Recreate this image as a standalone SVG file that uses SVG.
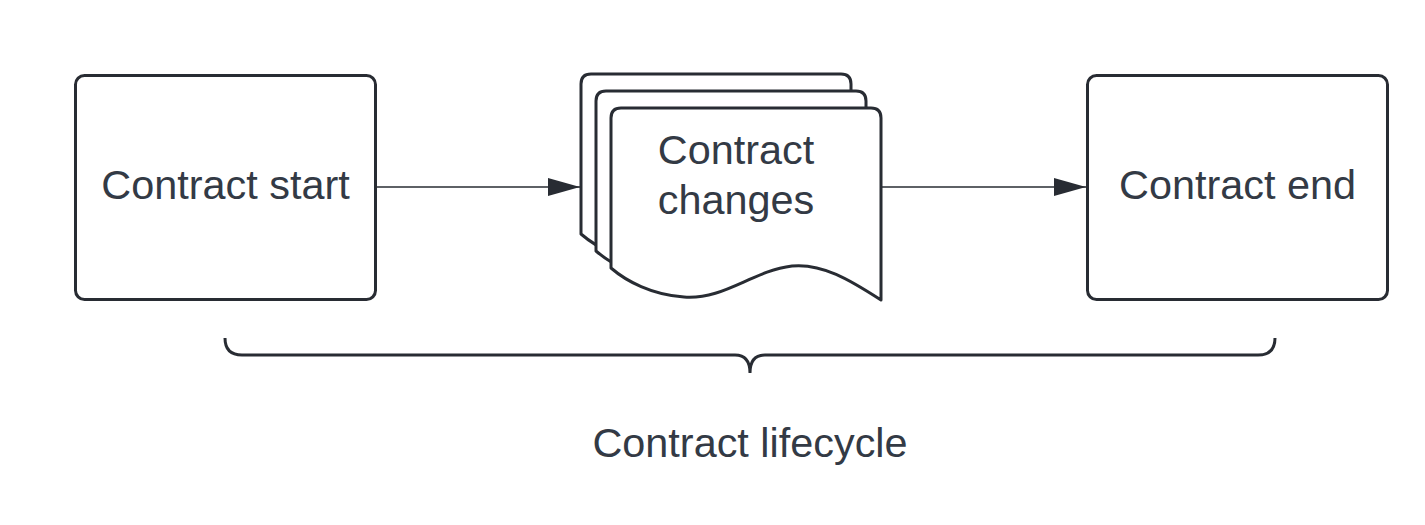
<svg xmlns="http://www.w3.org/2000/svg" width="1425" height="525" viewBox="0 0 1425 525">
<defs>
<style>
.box{fill:#ffffff;stroke:#282c33;stroke-width:3;stroke-linejoin:round}
.lbl{font-family:"Liberation Sans",Arial,sans-serif;font-size:41.4px;fill:#333a45;text-anchor:middle}
.conn{stroke:#282c33;stroke-width:1.5;fill:none}
</style>
<marker id="ah" viewBox="0 0 32 18" refX="32" refY="9" markerWidth="32" markerHeight="18" markerUnits="userSpaceOnUse" orient="auto">
<path d="M0,0 L32,9 L0,18 Z" fill="#282c33"/>
</marker>
<path id="doc" d="M611,118 Q611,108 621,108 L871,108 Q881,108 881,118 L881,300 C850,280 822,263 792,266 C752,271 724,300 684,297 C652,295 626,281 611,268 Z"/>
</defs>
<rect width="1425" height="525" fill="#ffffff"/>
<g id="contract-start">
<rect class="box" x="75.5" y="75.5" width="300" height="224" rx="9"/>
<text class="lbl" x="225.5" y="199">Contract start</text>
</g>
<g id="contract-changes">
<use href="#doc" class="box" transform="translate(-30,-34)"/>
<use href="#doc" class="box" transform="translate(-15,-17)"/>
<use href="#doc" class="box"/>
<text class="lbl" x="736" y="164">Contract</text>
<text class="lbl" x="736" y="214">changes</text>
</g>
<g id="contract-end">
<rect class="box" x="1087.5" y="75.5" width="300" height="224" rx="9"/>
<text class="lbl" x="1237.5" y="199">Contract end</text>
</g>
<g id="lifecycle">
<path d="M225,338 Q225,355 242,355 L735,355 Q750,355 750,373 Q750,355 765,355 L1258,355 Q1275,355 1275,338" fill="none" stroke="#282c33" stroke-width="3"/>
<text class="lbl" x="750" y="457">Contract lifecycle</text>
</g>
<g id="connectors">
<line class="conn" x1="377" y1="187" x2="580" y2="187" marker-end="url(#ah)"/>
<line class="conn" x1="882" y1="187" x2="1086" y2="187" marker-end="url(#ah)"/>
</g>
</svg>
